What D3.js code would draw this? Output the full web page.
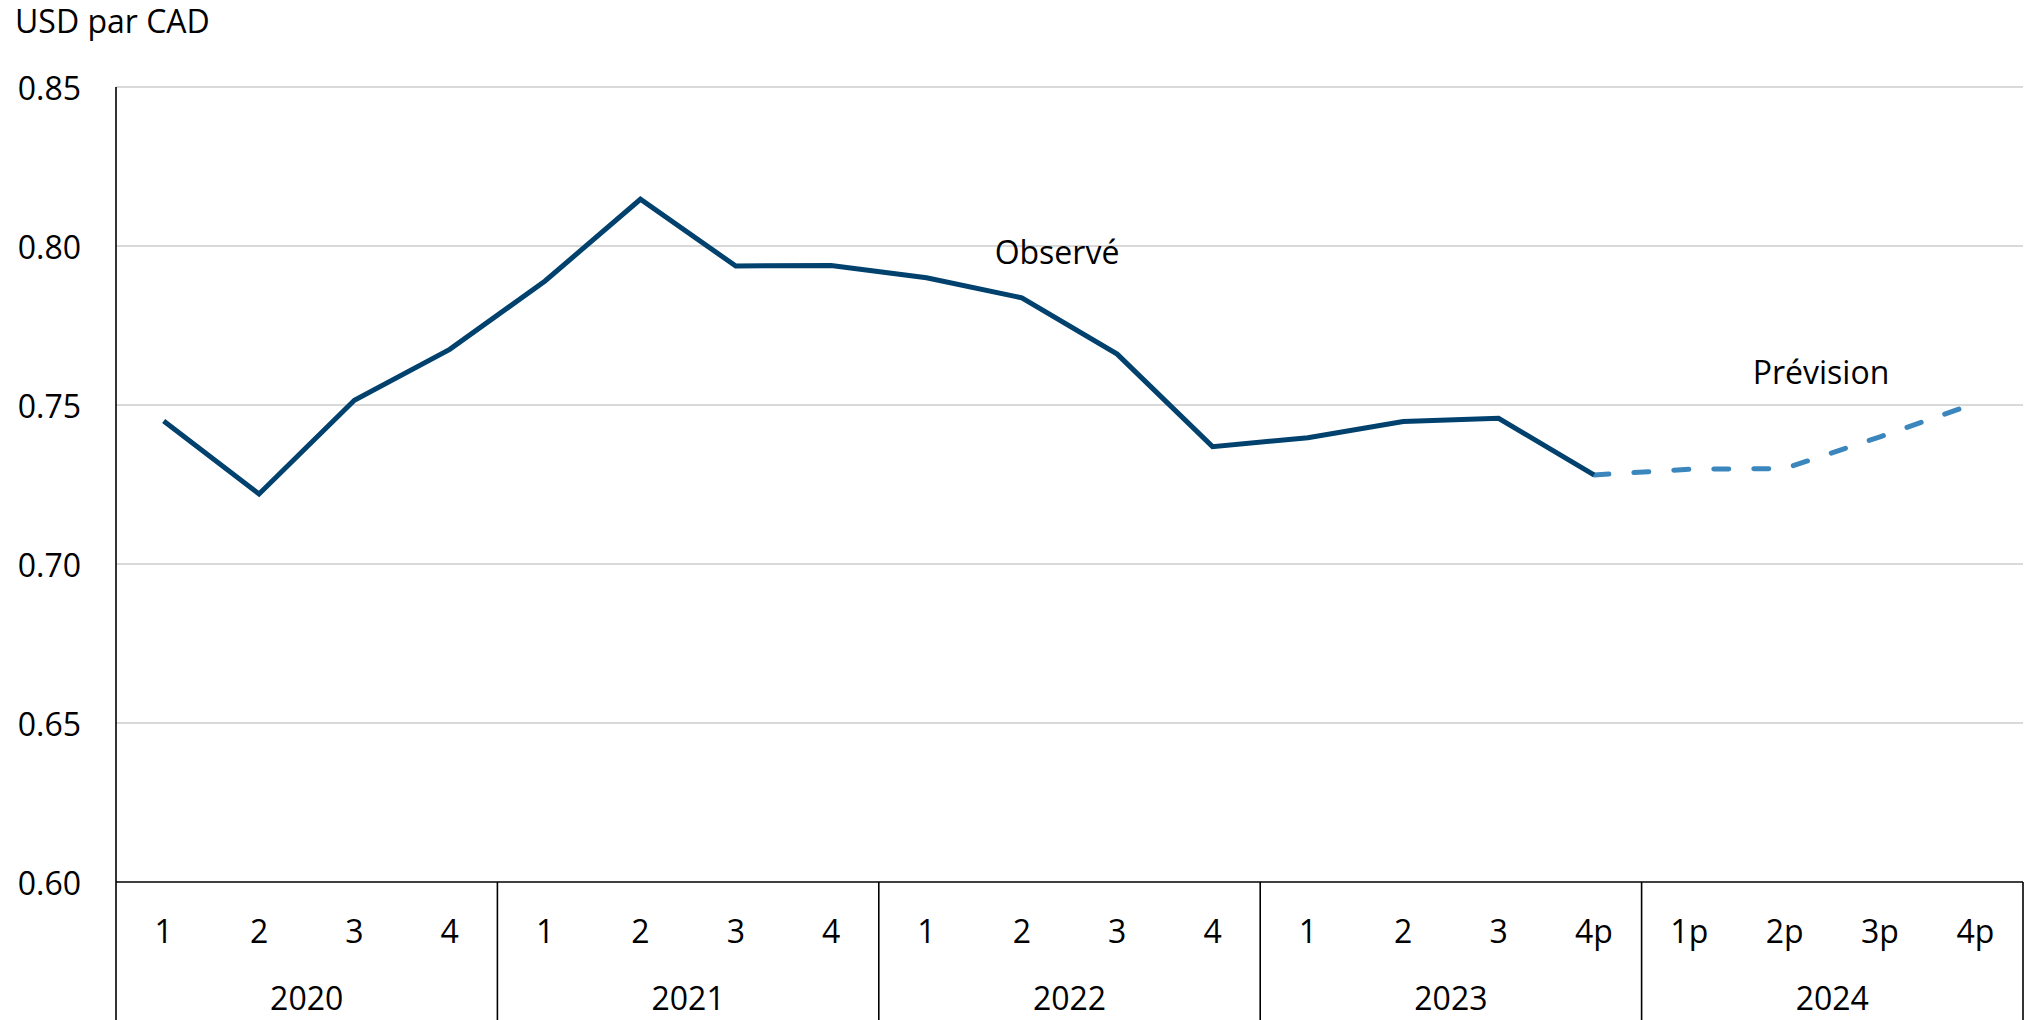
<!DOCTYPE html>
<html>
<head>
<meta charset="utf-8">
<script src="https://cdn.jsdelivr.net/npm/d3@7"></script>
<style>
  html, body { margin: 0; padding: 0; background: #fff; }
  svg text { font-family: "Open Sans", "Noto Sans", sans-serif; fill: #000; }
</style>
</head>
<body>
<svg id="chart" width="2028" height="1020"></svg>
<script>
// ---- Data ----
const years = ["2020", "2021", "2022", "2023", "2024"];
const quarterLabels = ["1","2","3","4", "1","2","3","4", "1","2","3","4", "1","2","3","4p", "1p","2p","3p","4p"];
const categoryYears = ["2020","2020","2020","2020","2021","2021","2021","2021","2022","2022","2022","2022","2023","2023","2023","2023","2024","2024","2024","2024"];
const observed = [0.745, 0.722, 0.7515, 0.7675, 0.789, 0.8147, 0.7937, 0.7939, 0.790, 0.7837, 0.766, 0.7369, 0.7397, 0.7448, 0.7458, 0.728];
const forecast = [0.728, 0.7298, 0.730, 0.740, 0.7505]; // from 2023 4p through 2024 4p
const yTicks = [0.60, 0.65, 0.70, 0.75, 0.80, 0.85];
const yLabel = "USD par CAD";
const labelObserved = "Observé";
const labelForecast = "Prévision";

(function () {
// ---- Layout ----
const svg = d3.select("#chart");
const mLeft = 116, mRight = 2023, mTop = 87, mBottom = 882;
const fs = 32;
const keys = quarterLabels.map((q, i) => i);

const x = d3.scaleBand().domain(keys).range([mLeft, mRight]).paddingInner(0).paddingOuter(0);
const y = d3.scaleLinear().domain([0.60, 0.85]).range([mBottom, mTop]);
const cx = i => x(i) + x.bandwidth() / 2;

// gridlines
svg.append("g")
  .selectAll("line")
  .data(yTicks.filter(t => t > 0.60))
  .join("line")
  .attr("x1", mLeft).attr("x2", mRight)
  .attr("y1", d => y(d)).attr("y2", d => y(d))
  .attr("stroke", "#d9d9d9").attr("stroke-width", 2);

// y axis tick labels
svg.append("g")
  .selectAll("text")
  .data(yTicks)
  .join("text")
  .attr("x", 81)
  .attr("y", d => y(d))
  .attr("text-anchor", "end")
  .attr("dominant-baseline", "central")
  .attr("font-size", fs)
  .text(d => d3.format(".2f")(d));

// y axis title
svg.append("text")
  .attr("x", 15).attr("y", 33)
  .attr("font-size", fs)
  .text(yLabel);

// axes lines
svg.append("line")
  .attr("x1", mLeft).attr("x2", mLeft).attr("y1", mTop).attr("y2", 1020)
  .attr("stroke", "#000").attr("stroke-width", 1.6);
svg.append("line")
  .attr("x1", mLeft).attr("x2", mRight).attr("y1", mBottom).attr("y2", mBottom)
  .attr("stroke", "#000").attr("stroke-width", 1.6);

// year separators
const yearBounds = years.map(yr => categoryYears.indexOf(yr));
svg.append("g")
  .selectAll("line")
  .data(yearBounds.slice(1).map(i => x(i)).concat([mRight]))
  .join("line")
  .attr("x1", d => d).attr("x2", d => d)
  .attr("y1", mBottom).attr("y2", 1020)
  .attr("stroke", "#000").attr("stroke-width", 1.6);

// quarter labels
svg.append("g")
  .selectAll("text")
  .data(quarterLabels)
  .join("text")
  .attr("x", (d, i) => cx(i))
  .attr("y", 943)
  .attr("text-anchor", "middle")
  .attr("font-size", fs)
  .text(d => d);

// year labels
svg.append("g")
  .selectAll("text")
  .data(years)
  .join("text")
  .attr("x", yr => {
    const idx = categoryYears.map((c, i) => c === yr ? i : -1).filter(i => i >= 0);
    return (x(idx[0]) + x(idx[idx.length - 1]) + x.bandwidth()) / 2;
  })
  .attr("y", 1010)
  .attr("text-anchor", "middle")
  .attr("font-size", fs)
  .text(d => d);

// lines
const line = d3.line().x(d => cx(d.i)).y(d => y(d.v));
const obsData = observed.map((v, i) => ({ i, v }));
const fcStart = observed.length - 1;
const fcData = forecast.map((v, k) => ({ i: fcStart + k, v }));

svg.append("path")
  .datum(fcData)
  .attr("d", line)
  .attr("fill", "none")
  .attr("stroke", "#3b87bd")
  .attr("stroke-width", 5)
  .attr("stroke-linecap", "round")
  .attr("stroke-dasharray", "15,25");

svg.append("path")
  .datum(obsData)
  .attr("d", line)
  .attr("fill", "none")
  .attr("stroke", "#00416e")
  .attr("stroke-width", 5)
  .attr("stroke-linejoin", "miter");

// annotations
svg.append("text")
  .attr("x", 1057).attr("y", 264)
  .attr("text-anchor", "middle")
  .attr("font-size", fs)
  .text(labelObserved);

svg.append("text")
  .attr("x", 1821).attr("y", 384)
  .attr("text-anchor", "middle")
  .attr("font-size", fs)
  .text(labelForecast);
})();
</script>
</body>
</html>
